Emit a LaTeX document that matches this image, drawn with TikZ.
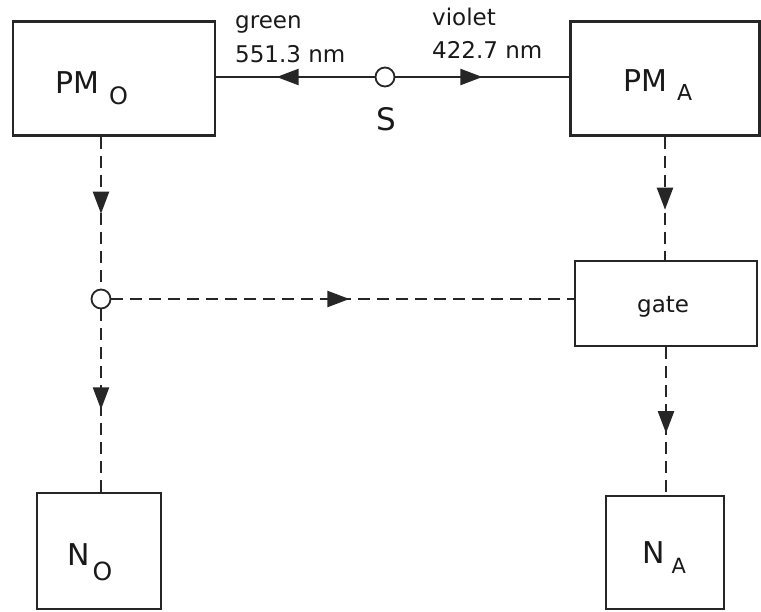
\documentclass[tikz,border=0pt]{standalone}
\usepackage{fontspec}
\setmainfont{DejaVu Sans}
\usetikzlibrary{arrows.meta,decorations.markings,calc}
\newcommand{\fs}[1]{\fontsize{#1}{#1}\selectfont}
\begin{document}
\begin{tikzpicture}[x=1pt,y=-1pt,
  box/.style={draw=black!85,line width=2.4pt,fill=white,inner sep=0pt},
  txt/.style={inner sep=0pt,anchor=base west,text=black!90},
  junc/.style={circle,draw=black!85,line width=1.8pt,fill=white,minimum size=19pt,inner sep=0pt},
  solidline/.style={draw=black!85,line width=2.2pt},
  dashline/.style={draw=black!85,line width=2.2pt,dash pattern=on 12pt off 7pt},
  arrowat/.style={postaction={decorate},decoration={markings,
    mark=at position #1 with {\arrow{Triangle[length=22pt,width=16pt]}}}}]
\useasboundingbox (0,0) rectangle (761,611);
% boxes
\node[box,minimum width=202pt,minimum height=114pt] (PMO) at (114,78.5) {};
\node[box,minimum width=189pt,minimum height=114pt] (PMA) at (665,78.5) {};
\node[box,minimum width=182pt,minimum height=85pt] (gate) at (666,303.5) {};
\node[box,minimum width=124pt,minimum height=116pt] (NO) at (99,551) {};
\node[box,minimum width=118pt,minimum height=113pt] (NA) at (665,552.5) {};
% junctions
\node[junc] (S) at (385,77) {};
\node[junc] (J) at (101,299) {};
% labels
\node[txt] (lPMO) at (55,93) {\fs{30}PM\hspace{10pt}\raisebox{-11pt}{\fs{24}O}};
\node[txt] (lPMA) at (623,91) {\fs{30}PM\hspace{10pt}\raisebox{-9pt}{\fs{22}A}};
\node[txt] (lNO) at (67,565) {\fs{30}N\hspace{3pt}\raisebox{-15pt}{\fs{25}O}};
\node[txt] (lNA) at (642,563) {\fs{30}N\hspace{7pt}\raisebox{-10pt}{\fs{21}A}};
\node[txt] (lgate) at (637,312) {\fs{23}gate};
\node[txt,anchor=base] (lS) at (386,130) {\fs{31}S};
\node[txt] (g1) at (235,28) {\fs{23}green};
\node[txt] (g2) at (235,62) {\fs{23}551.3 nm};
\node[txt] (v1) at (432,25) {\fs{23}violet};
\node[txt] (v2) at (432,58) {\fs{23}422.7 nm};
% connectors
\draw[solidline,arrowat=98pt] (S.west) -- (S.west -| PMO.east);
\draw[solidline,arrowat=87pt] (S.east) -- (S.east -| PMA.west);
\draw[dashline,arrowat=77pt] (J |- PMO.south) -- (J.north);
\draw[dashline,arrowat=100pt] (J.south) -- (J |- NO.north);
\draw[dashline,arrowat=238pt] (J.east) -- (J.east -| gate.west);
\draw[dashline,arrowat=73pt] (PMA.south) -- (PMA.south |- gate.north);
\draw[dashline,arrowat=86pt] (gate.south) -- (gate.south |- NA.north);
\end{tikzpicture}
\end{document}
